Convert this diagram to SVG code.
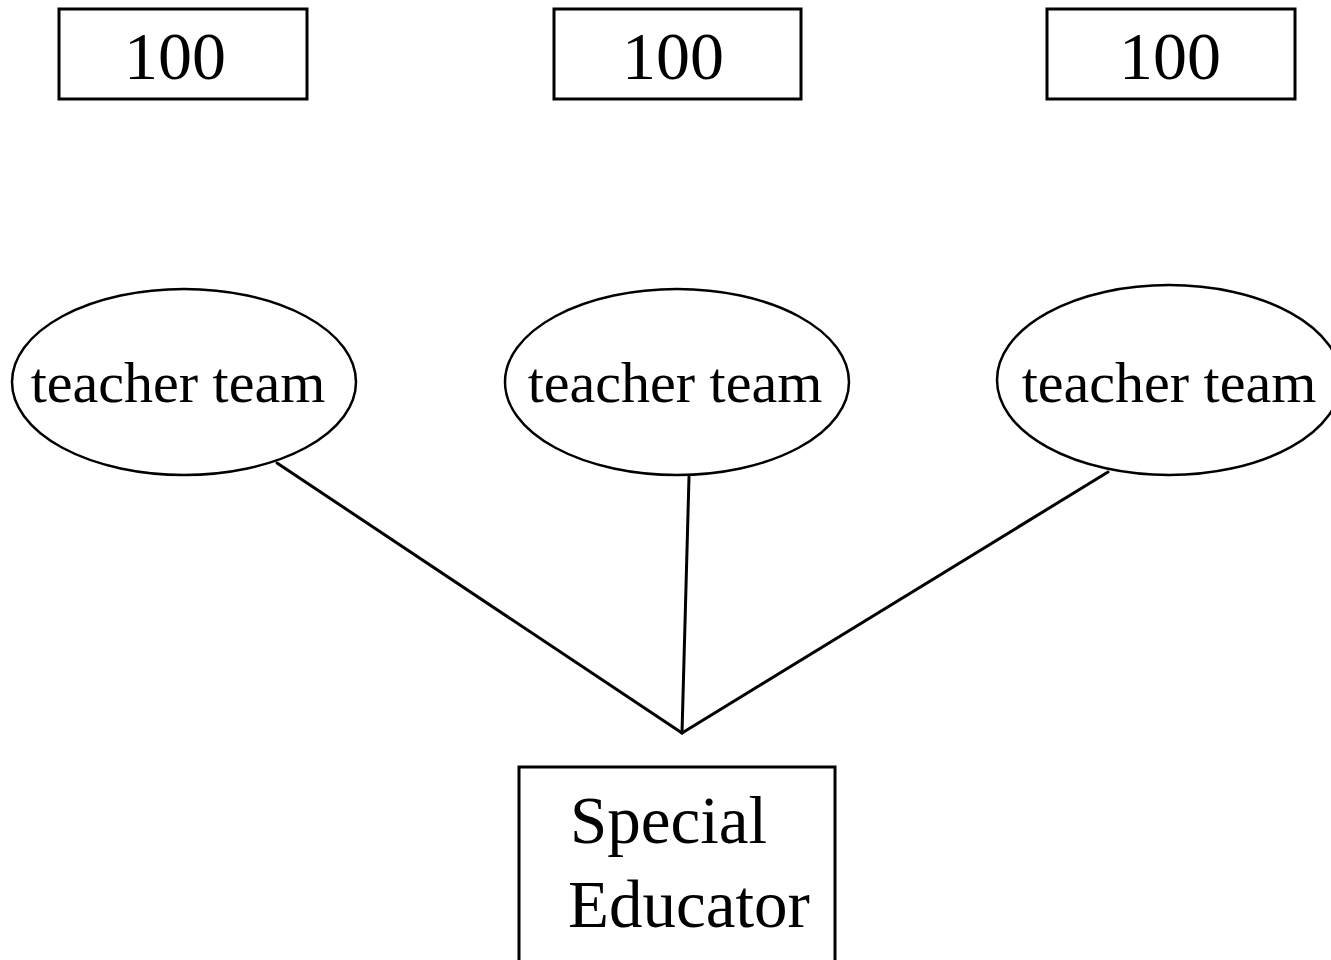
<svg xmlns="http://www.w3.org/2000/svg" width="1331" height="960" viewBox="0 0 1331 960">
<style>
.box{fill:#fff;stroke:#000;stroke-width:3}
.ell{fill:#fff;stroke:#000;stroke-width:2.5}
.t{font-family:"Liberation Serif","Times New Roman",serif;fill:#000}
.num{font-size:68px;text-anchor:middle}
.lab{font-size:58px;text-anchor:middle}
.se{font-size:67px}
.conn line{stroke:#000;stroke-width:3;stroke-linecap:round}
</style>
<rect width="1331" height="960" fill="#fff"/>
<g id="box1"><rect class="box" x="59" y="9" width="248" height="90"/><text class="t num" x="175" y="79">100</text></g>
<g id="box2"><rect class="box" x="554" y="9" width="247" height="90"/><text class="t num" x="673" y="79">100</text></g>
<g id="box3"><rect class="box" x="1047" y="9" width="248" height="90"/><text class="t num" x="1170" y="79">100</text></g>
<g class="conn" id="connectors">
<line x1="277" y1="463" x2="682" y2="733"/>
<line x1="689" y1="477" x2="682" y2="733"/>
<line x1="1108" y1="472" x2="682" y2="733"/>
</g>
<g id="team1"><ellipse class="ell" cx="184" cy="382" rx="172" ry="93"/><text class="t lab" x="178" y="402">teacher team</text></g>
<g id="team2"><ellipse class="ell" cx="677" cy="382" rx="172" ry="93"/><text class="t lab" x="675" y="402">teacher team</text></g>
<g id="team3"><ellipse class="ell" cx="1169" cy="380" rx="172" ry="95"/><text class="t lab" x="1169" y="402">teacher team</text></g>
<g id="special"><rect class="box" x="519" y="767" width="316" height="200"/><text class="t se" x="570" y="843">Special</text><text class="t se" x="568" y="927">Educator</text></g>
</svg>
